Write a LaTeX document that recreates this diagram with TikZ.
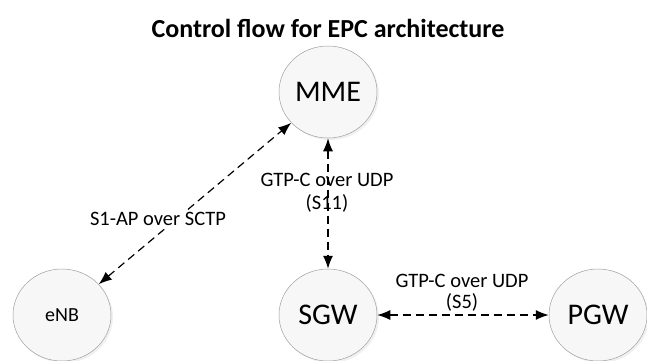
\documentclass[tikz,border=0pt]{standalone}
\usepackage{fontspec}
\setmainfont{Carlito}
\usetikzlibrary{shapes.geometric,arrows.meta,shadows}
\begin{document}
\begin{tikzpicture}[x=1pt,y=-1pt,
  entity/.style={ellipse,draw=gray!75,line width=0.5pt,fill=gray!6,
    minimum width=98pt,minimum height=92pt,inner sep=0pt,
    drop shadow={opacity=0.12,shadow xshift=2pt,shadow yshift=-2pt}},
  bigtxt/.style={font=\fontsize{30}{32}\selectfont},
  smalltxt/.style={font=\fontsize{20}{22}\selectfont},
  lbl/.style={font=\fontsize{20.5}{23}\selectfont,align=center,inner sep=1pt},
  link/.style={dashed,dash pattern=on 8pt off 5pt,line width=1.2pt,
    {Latex[length=13pt,width=10pt]}-{Latex[length=13pt,width=10pt]}}
]
\useasboundingbox (0,0) rectangle (647,360);
\node[font=\bfseries\fontsize{26}{28}\selectfont] (title) at (328,28) {Control flow for EPC architecture};
\node[entity,bigtxt] (mme) at (328,92) {MME};
\node[entity,smalltxt] (enb) at (62,315) {eNB};
\node[entity,bigtxt] (sgw) at (328,315) {SGW};
\node[entity,bigtxt] (pgw) at (598,315) {PGW};
\draw[link] (enb) -- (mme);
\draw[link] (mme) -- (sgw);
\draw[link] (sgw) -- (pgw);
\node[lbl,fill=white] (l1) at (158,219) {S1-AP over SCTP};
\node[lbl] (l2) at (327,193) {GTP-C over UDP\\(S11)};
\node[lbl,font=\fontsize{20.5}{21}\selectfont] (l3) at (462,293) {GTP-C over UDP\\(S5)};
\end{tikzpicture}
\end{document}
